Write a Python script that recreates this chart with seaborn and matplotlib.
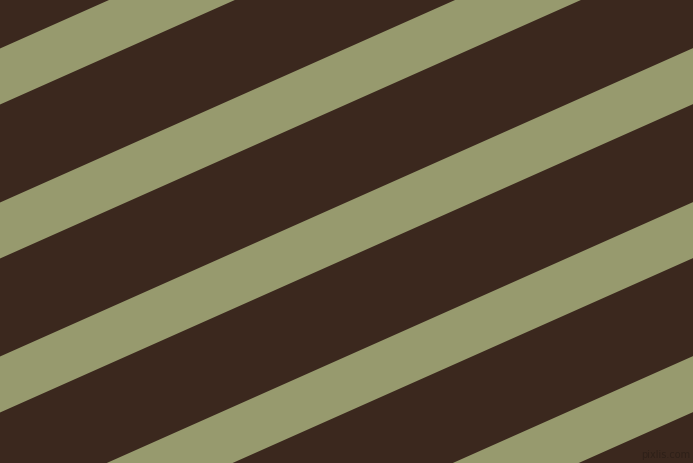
import numpy as np
import pandas as pd
import matplotlib
matplotlib.use("Agg")
import matplotlib.pyplot as plt
import seaborn as sns

# stripe data: top-edge intercept at x=0 (pixel rows, y down), stripe thickness, slope
stripe_starts = [-105.5, 48.5, 202.5, 356.5, 510.5, 664.5]
stripe_width = 56
stripe_slope = -0.445
x_span = [0, 693]

background = "#3B281E"
stripe_color = "#979A6E"

sns.set_theme(style="white")
fig = plt.figure(figsize=(6.93, 4.63), dpi=100)
fig.patch.set_facecolor(background)
ax = fig.add_axes([0, 0, 1, 1])
ax.set_facecolor(background)

xs = np.array(x_span, dtype=float)
rows = []
for i, s in enumerate(stripe_starts):
    for x in xs:
        rows.append({"stripe": i, "x": x, "top": s + stripe_slope * x,
                     "bottom": s + stripe_width + stripe_slope * x})
df = pd.DataFrame(rows)

for i, g in df.groupby("stripe"):
    sns.lineplot(data=g, x="x", y="top", ax=ax, color=stripe_color, linewidth=0, legend=False)
    ax.fill_between(g["x"], g["top"], g["bottom"], color=stripe_color, linewidth=0)

ax.text(690, 455, "pixlis.com", color="#2E2018", fontsize=7, ha="right", va="center")

ax.set_xlim(0, 693)
ax.set_ylim(463, 0)
ax.set_axis_off()
fig.savefig("out.png", dpi=100, facecolor=background)
